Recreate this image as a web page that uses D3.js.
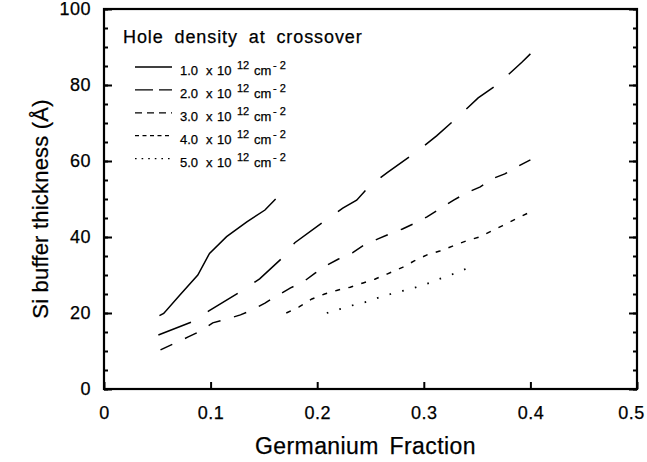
<!DOCTYPE html>
<html>
<head>
<meta charset="utf-8">
<script src="https://cdn.jsdelivr.net/npm/d3@7"></script>
<style>
  body { margin: 0; background: #fff; }
  text { font-family: "Liberation Sans", Arial, sans-serif; fill: #000; stroke: #000; stroke-width: 0.25px; }
</style>
</head>
<body>
<div id="chart"></div>
<script>
// Datos (x = fraccion de Ge, y = espesor en Å)
const densidades = ["1.0", "2.0", "3.0", "4.0", "5.0"];

const serie1 = [
    [0.052, 19.3], [0.056, 19.9], [0.071, 24.7], [0.088, 30], [0.099, 35.7],
    [0.115, 40.1], [0.134, 44], [0.151, 47.1], [0.161, 50]
];
const serie2 = [
    [0.051, 14.2], [0.082, 17.6], [0.098, 20.5], [0.129, 25.8], [0.146, 29],
    [0.168, 34.7], [0.179, 38.5], [0.207, 44.2], [0.224, 47.6], [0.237, 49.7],
    [0.25, 53.7], [0.266, 57], [0.296, 63], [0.312, 66.6], [0.337, 72.9],
    [0.351, 76.6], [0.37, 80.3], [0.378, 82.4], [0.392, 86], [0.4, 88.2]
];
const serie3 = [
    [0.053, 10.3], [0.079, 13.7], [0.091, 15.3], [0.102, 17.4], [0.115, 18.4],
    [0.128, 19.5], [0.139, 20.8], [0.151, 22.6], [0.162, 24.5], [0.175, 26.6],
    [0.187, 28.2], [0.198, 30.5], [0.208, 32.4], [0.22, 34.2], [0.233, 35.8],
    [0.244, 37.9], [0.257, 39.5], [0.268, 40.8], [0.28, 42.1], [0.292, 43.7],
    [0.303, 45.3], [0.316, 47.6], [0.328, 49.7], [0.34, 51.6], [0.353, 53.2],
    [0.364, 55.3], [0.376, 56.6], [0.387, 58.4], [0.4, 60.3]
];
const serie4 = [
    [0.171, 20], [0.183, 21.6], [0.195, 23.7], [0.207, 25], [0.219, 26],
    [0.231, 26.8], [0.243, 27.9], [0.254, 28.9], [0.266, 30.3], [0.28, 32],
    [0.291, 33.7], [0.303, 35.3], [0.315, 36.3], [0.327, 37.6], [0.34, 39],
    [0.352, 40], [0.363, 41.5], [0.374, 43], [0.386, 44.7], [0.4, 46.6]
];
const serie5 = [
    [0.209, 20], [0.221, 21], [0.234, 22.1], [0.246, 22.9], [0.257, 24],
    [0.269, 25], [0.28, 25.8], [0.293, 26.8], [0.305, 27.9], [0.317, 29.2],
    [0.33, 30.5], [0.341, 31.8]
];

const ticksX = [0, 0.1, 0.2, 0.3, 0.4, 0.5];
const ticksY = [0, 20, 40, 60, 80, 100];
const ticksYMenores = d3.range(0, 101, 5);

crearGrafico();

function crearGrafico() {
    const svgWidth = 647, svgHeight = 462;
    const margin = { top: 9, right: 10, bottom: 73, left: 104 };
    const width = svgWidth - margin.left - margin.right;
    const height = svgHeight - margin.top - margin.bottom;

    const svg = d3.select("#chart")
        .append("svg")
        .attr("width", svgWidth)
        .attr("height", svgHeight)
        .append("g")
        .attr("transform", `translate(${margin.left}, ${margin.top})`);

    const x = d3.scaleLinear().domain([0, 0.5]).range([0, width]);
    const y = d3.scaleLinear().domain([0, 100]).range([height, 0]);

    // Estilos de linea: plot y leyenda
    const trazos = [null, "35,20", "13,14", "5,8.5", "1.6,11.5"];
    const trazosLeyenda = [null, "18,6", "7,5", "4,3.5", "1.6,5"];
    const series = [serie1, serie2, serie3, serie4, serie5];

    // Ejes: ticks hacia dentro
    const ejeIzq = svg.append("g")
        .call(d3.axisLeft(y).tickValues(ticksY).tickSize(-8).tickPadding(13)
            .tickFormat(d3.format("d")));
    svg.append("g")
        .call(d3.axisLeft(y).tickValues(ticksYMenores).tickSize(-4).tickFormat(""));
    svg.append("g")
        .attr("transform", `translate(${width}, 0)`)
        .call(d3.axisRight(y).tickValues(ticksY).tickSize(-8).tickFormat(""));
    svg.append("g")
        .attr("transform", `translate(${width}, 0)`)
        .call(d3.axisRight(y).tickValues(ticksYMenores).tickSize(-4).tickFormat(""));
    const ejeAbajo = svg.append("g")
        .attr("transform", `translate(0, ${height})`)
        .call(d3.axisBottom(x).tickValues(ticksX).tickSize(-7).tickPadding(17)
            .tickFormat(d => d === 0 ? "0" : d3.format(".1f")(d)));

    svg.selectAll(".domain").remove();
    svg.selectAll(".tick line").attr("stroke", "#000").attr("stroke-width", 2);
    ejeIzq.selectAll("text").style("font-size", "18px").style("letter-spacing", "0.5px");
    ejeAbajo.selectAll("text").style("font-size", "18px").style("letter-spacing", "0.5px")
        .attr("dx", d => d === 0.5 ? -6 : 0);

    // Marco
    svg.append("rect")
        .attr("width", width).attr("height", height)
        .attr("fill", "none").attr("stroke", "#000").attr("stroke-width", 2.2);

    // Curvas
    const linea = d3.line().x(d => x(d[0])).y(d => y(d[1]));
    series.forEach((s, i) => {
        svg.append("path")
            .datum(s)
            .attr("d", linea)
            .attr("fill", "none")
            .attr("stroke", "#000")
            .attr("stroke-width", i === 4 ? 1.8 : 1.5)
            .attr("stroke-dasharray", trazos[i]);
    });

    // Titulos de ejes
    svg.append("text")
        .attr("x", width / 2 - 5).attr("y", height + 65)
        .attr("text-anchor", "middle")
        .style("font-size", "23px")
        .style("letter-spacing", "0.4px")
        .style("word-spacing", "4px")
        .text("Germanium Fraction");
    svg.append("text")
        .attr("transform", `translate(${-56}, ${200}) rotate(-90)`)
        .attr("text-anchor", "middle")
        .style("font-size", "22px")
        .style("letter-spacing", "0.2px")
        .text("Si buffer thickness (Å)");

    // Leyenda
    const legend = svg.append("g").attr("transform", "translate(19, 34)");
    legend.append("text")
        .style("font-size", "18px")
        .style("letter-spacing", "0.9px")
        .style("word-spacing", "5px")
        .text("Hole density at crossover");

    densidades.forEach((dens, i) => {
        const fy = 32 + i * 22.9;
        legend.append("line")
            .attr("x1", 12).attr("x2", 49)
            .attr("y1", fy - 8).attr("y2", fy - 8)
            .attr("stroke", "#000").attr("stroke-width", 1.3)
            .attr("stroke-dasharray", trazosLeyenda[i]);
        const t = legend.append("text")
            .attr("y", fy)
            .style("font-size", "13px");
        t.append("tspan").attr("x", 57).text(dens);
        t.append("tspan").attr("x", 83).text("x");
        t.append("tspan").attr("x", 94).text("10");
        t.append("tspan").attr("x", 114).attr("dy", -6).style("font-size", "11px").text("12");
        t.append("tspan").attr("x", 131).attr("dy", 6).text("cm");
        t.append("tspan").attr("x", 150).attr("dy", -6).style("font-size", "11px").text("- 2");
    });
}
</script>
</body>
</html>
